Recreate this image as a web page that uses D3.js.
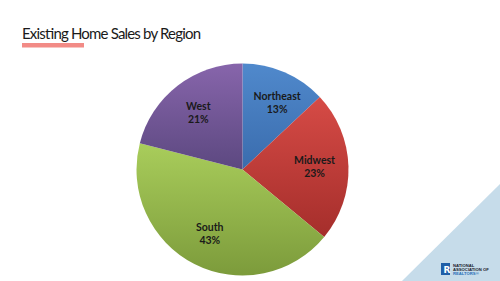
<!DOCTYPE html>
<html lang="en">
  <head>
    <meta charset="utf-8" />
    <title>Existing Home Sales by Region</title>
    <script src="https://cdn.jsdelivr.net/npm/d3@7"></script>
    <style>
      body { margin: 0; background: #fff; }
    </style>
  </head>
  <body>
    <script>
      var regions = ["Northeast", "Midwest", "South", "West"]
      var shares = [13, 23, 43, 21]
      var topColors = ["#5089cc", "#d64b46", "#a9cd5b", "#8765ab"]
      var bottomColors = ["#3a6cad", "#a52e2b", "#7c9b3b", "#5c4880"]

      var width = 500, height = 281
      var cx = 242.5, cy = 169.5, radius = 106

      var svg = d3.select("body").append("svg")
                  .attr("width", width)
                  .attr("height", height)

      // corner triangle
      svg.append("path")
         .attr("d", "M500,184 L500,281 L402,281 Z")
         .attr("fill", "#c6dcea")

      // title + accent bar
      svg.append("text")
         .attr("x", 22)
         .attr("y", 39)
         .style("font-family", "Lato, sans-serif")
         .style("font-size", "15px")
         .attr("fill", "#1a1a1a")
         .attr("textLength", 179)
         .text("Existing Home Sales by Region")

      svg.append("rect")
         .attr("x", 22).attr("y", 43)
         .attr("width", 62).attr("height", 4.5)
         .attr("fill", "#f28b86")

      var defs = svg.append("defs")
      regions.forEach(function(r, i) {
        var grad = defs.append("linearGradient")
                       .attr("id", "g" + i)
                       .attr("x1", 0).attr("y1", 0)
                       .attr("x2", 0).attr("y2", 1)
        grad.append("stop").attr("offset", "0%").attr("stop-color", topColors[i])
        grad.append("stop").attr("offset", "100%").attr("stop-color", bottomColors[i])
      })

      var data = regions.map(function(r, i) { return {region: r, share: shares[i], idx: i} })

      var pie = d3.pie().sort(null).value(function(d) { return d.share })
      var arc = d3.arc().innerRadius(0).outerRadius(radius)
      var labelArc = d3.arc().innerRadius(radius * 0.68).outerRadius(radius * 0.68)

      var g = svg.append("g")
                 .attr("transform", "translate(" + cx + "," + cy + ")")

      var slices = g.selectAll("g.slice")
                    .data(pie(data))
                    .enter()
                    .append("g")
                    .attr("class", "slice")

      slices.append("path")
            .attr("d", arc)
            .attr("fill", function(d) { return "url(#g" + d.data.idx + ")" })

      var labels = slices.append("text")
            .attr("transform", function(d) {
              var c = labelArc.centroid(d)
              // small first slice: excel pushes its label away from the edge
              if (d.index == 0) c[0] += 6
              return "translate(" + c + ")"
            })
            .attr("text-anchor", "middle")
            .style("font-family", "Lato, sans-serif")
            .style("font-size", "10.5px")
            .style("font-weight", "bold")
            .attr("fill", "#1a1a1a")

      labels.append("tspan").attr("x", 0).attr("y", -3).text(function(d) { return d.data.region })
      labels.append("tspan").attr("x", 0).attr("y", 10).text(function(d) { return d.data.share + "%" })

      // logo
      var logo = svg.append("g").attr("transform", "translate(441,263)")
      logo.append("rect").attr("width", 9).attr("height", 12).attr("fill", "#1f5fa8")
      logo.append("text").attr("x", 2.5).attr("y", 10)
          .style("font-family", "'DejaVu Sans', sans-serif")
          .style("font-size", "9px").style("font-weight", "bold")
          .attr("fill", "#fff").text("R")
      var lines = ["NATIONAL", "ASSOCIATION OF", "REALTORS\u00ae"]
      logo.selectAll("text.l")
          .data(lines)
          .enter()
          .append("text")
          .attr("class", "l")
          .attr("x", 12)
          .attr("y", function(d, i) { return 4 + i * 4 })
          .style("font-family", "'Liberation Sans', sans-serif")
          .style("font-size", "4.2px")
          .style("font-weight", "bold")
          .attr("fill", function(d, i) { return i == 2 ? "#2a6fb8" : "#1a1a2a" })
          .text(function(d) { return d })
    </script>
  </body>
</html>
